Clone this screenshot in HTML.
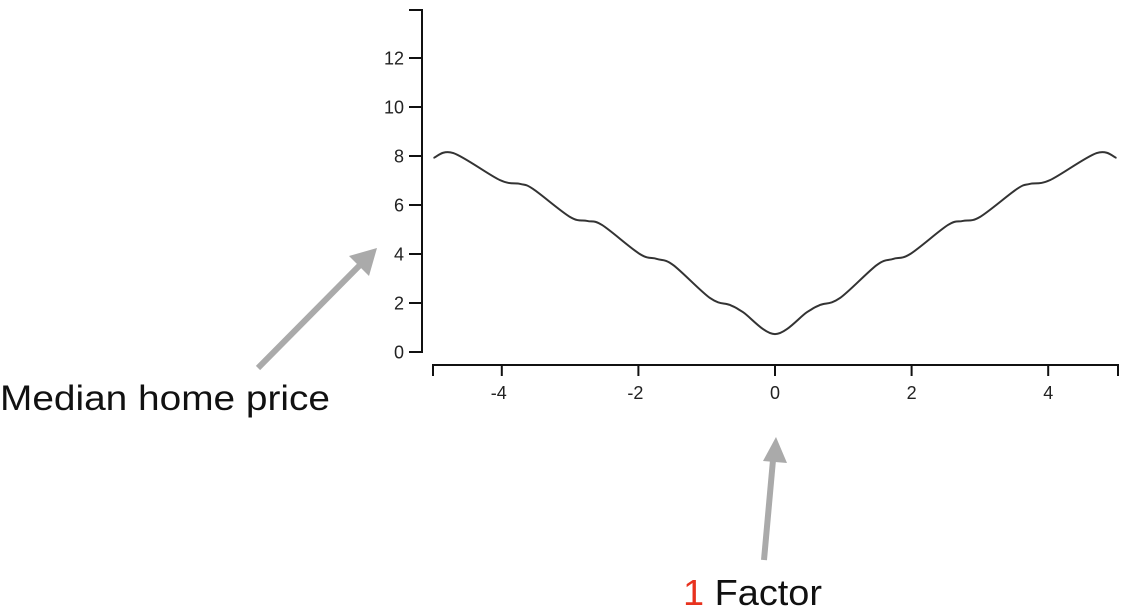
<!DOCTYPE html>
<html><head><meta charset="utf-8"><style>
html,body{margin:0;padding:0;background:#fff;width:1125px;height:615px;overflow:hidden}
svg{display:block}
</style></head><body>
<svg id="chart" width="1125" height="615" font-family="Liberation Sans, Arial, sans-serif">
<g id="axes"></g>
<path id="curve" fill="none" stroke="#333" stroke-width="2"/>
<g>
<line x1="258" y1="368" x2="360" y2="265" stroke="#aaa" stroke-width="6"/>
<polygon points="377,248 369,276 349,256" fill="#aaa"/>
<text x="0" y="410" font-size="35" fill="#111" textLength="330" lengthAdjust="spacingAndGlyphs">Median home price</text>
</g>
<g>
<line x1="764" y1="560" x2="773" y2="460" stroke="#aaa" stroke-width="6"/>
<polygon points="776,437 787,463 763,461" fill="#aaa"/>
<text x="683" y="605" font-size="36" fill="#111" textLength="139" lengthAdjust="spacingAndGlyphs"><tspan fill="#e8321e">1</tspan> Factor</text>
</g>
</svg>
<script>
const xTicks = [-4, -2, 0, 2, 4];
const yTicks = [0, 2, 4, 6, 8, 10, 12];
const xValues = [-5.0, -4.71, -4.03, -3.73, -3.54, -3.0, -2.75, -2.53, -1.98, -1.73, -1.49, -0.95, -0.66, -0.47, 0, 0.47, 0.66, 0.95, 1.49, 1.73, 1.98, 2.53, 2.75, 3.0, 3.54, 3.73, 4.03, 4.71, 5.0];
const yValues = [7.92, 8.12, 7.02, 6.86, 6.65, 5.51, 5.35, 5.18, 4.0, 3.8, 3.55, 2.2, 1.92, 1.63, 0.73, 1.63, 1.92, 2.2, 3.55, 3.8, 4.0, 5.18, 5.35, 5.51, 6.65, 6.86, 7.02, 8.12, 7.92];

const sx = v => 775 + v * 68.3;
const sy = v => 352 - v * 24.5;
const NS = 'http://www.w3.org/2000/svg';
const axes = document.getElementById('axes');
function mk(tag, attrs, parent) {
  const e = document.createElementNS(NS, tag);
  for (const k in attrs) e.setAttribute(k, attrs[k]);
  parent.appendChild(e);
  return e;
}
let yl = mk('path', {d: 'M409,10H422V352H409', fill: 'none', stroke: '#111', 'stroke-width': 2}, axes);


yTicks.forEach(t => {
  const y = sy(t);
  const tk = mk('line', {x1: 409, x2: 422, y1: y, y2: y, stroke: '#111', 'stroke-width': 2}, axes);
  
  
  const lb = mk('text', {x: 404, y: y + 6.5, 'text-anchor': 'end', 'font-size': 18, fill: '#222'}, axes);
  lb.textContent = t;
  
  
});
let xl = mk('path', {d: 'M433,376V365H1118V376', fill: 'none', stroke: '#111', 'stroke-width': 2}, axes);


xTicks.forEach(t => {
  const x = sx(t);
  const tk = mk('line', {x1: x, x2: x, y1: 365, y2: 376, stroke: '#111', 'stroke-width': 2}, axes);
  
  
  const lb = mk('text', {x: x - (t < 0 ? 3 : 0), y: 399, 'text-anchor': 'middle', 'font-size': 18, fill: '#222'}, axes);
  lb.textContent = t;
  
  
});
const pts = xValues.map((v, i) => [sx(v), sy(yValues[i])]);
let d = 'M' + pts[0][0] + ',' + pts[0][1];
for (let i = 0; i < pts.length - 1; i++) {
  const p0 = pts[i - 1] || pts[i], p1 = pts[i], p2 = pts[i + 1], p3 = pts[i + 2] || p2;
  const c1 = [p1[0] + (p2[0] - p0[0]) / 6, p1[1] + (p2[1] - p0[1]) / 6];
  const c2 = [p2[0] - (p3[0] - p1[0]) / 6, p2[1] - (p3[1] - p1[1]) / 6];
  d += 'C' + c1 + ' ' + c2 + ' ' + p2;
}
document.getElementById('curve').setAttribute('d', d);
</script>
</body></html>
